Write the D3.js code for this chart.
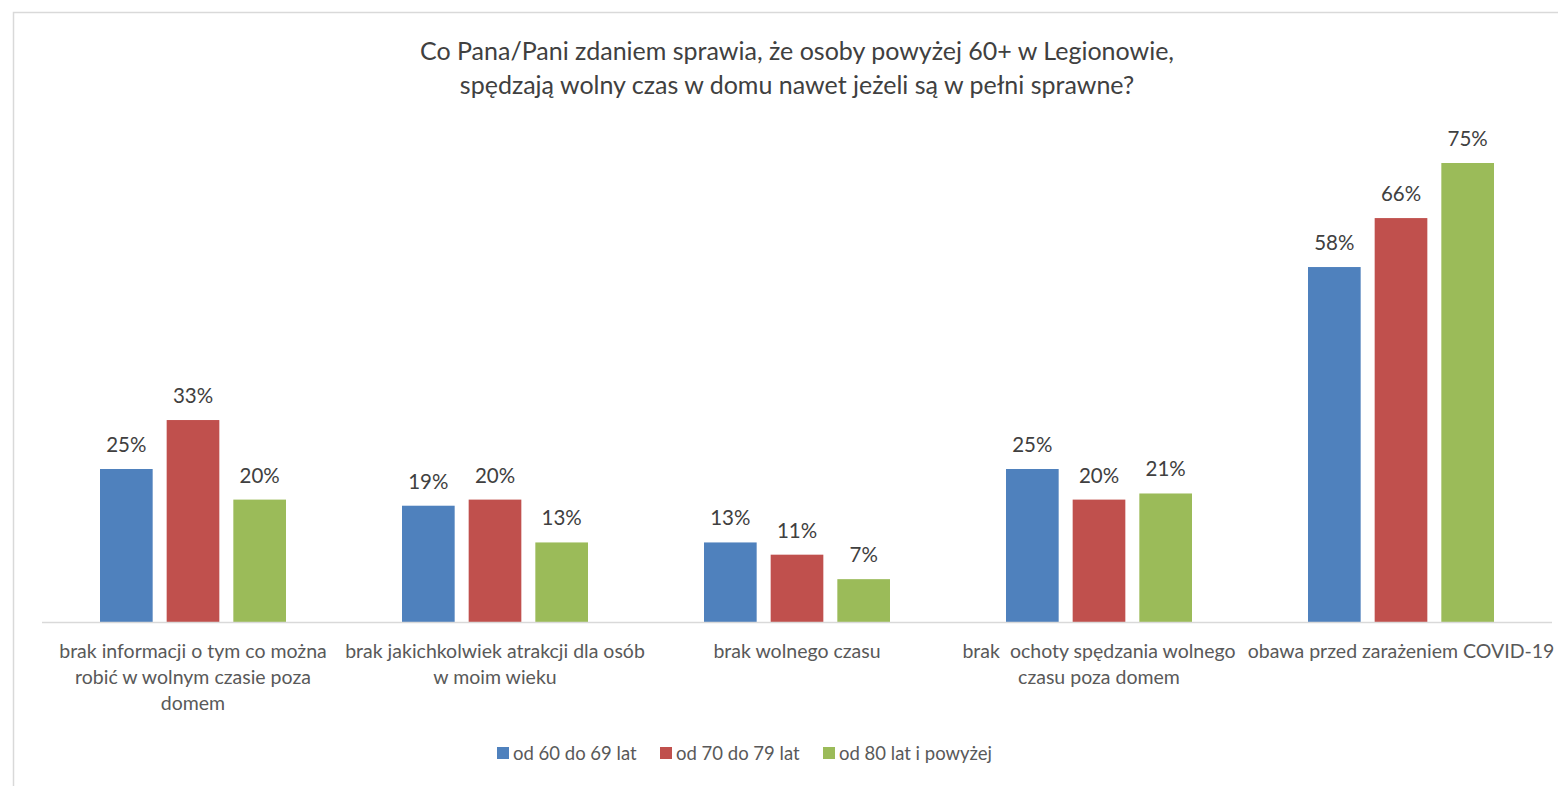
<!DOCTYPE html>
<html>
<head>
<meta charset="utf-8">
<script src="https://cdn.jsdelivr.net/npm/d3@7"></script>
<style>
  body { margin: 0; background: #fff; }
  svg { display: block; font-family: Lato, 'Open Sans', sans-serif; }
  text { white-space: pre; }
</style>
</head>
<body>
<svg id="chart" width="1558" height="786"></svg>
<script>
(function () {

  'use strict';

  // Data
  var categories = [
    ['brak informacji o tym co można', 'robić w wolnym czasie poza', 'domem'],
    ['brak jakichkolwiek atrakcji dla osób', 'w moim wieku'],
    ['brak wolnego czasu'],
    ['brak  ochoty spędzania wolnego', 'czasu poza domem'],
    ['obawa przed zarażeniem COVID-19']
  ];
  var seriesNames = ['od 60 do 69 lat', 'od 70 do 79 lat', 'od 80 lat i powyżej'];
  var age60 = [25, 19, 13, 25, 58];
  var age70 = [33, 20, 11, 20, 66];
  var age80 = [20, 13, 7, 21, 75];
  var colors = ['#4f81bd', '#c0504d', '#9bbb59'];
  var title = [
    'Co Pana/Pani zdaniem sprawia, że osoby powyżej 60+ w Legionowie,',
    'spędzają wolny czas w domu nawet jeżeli są w pełni sprawne?'
  ];

  var series = [age60, age70, age80];

  var svg = d3.select('#chart');

  // frame
  svg.append('path')
      .attr('d', 'M13.5,786 V12.5 H1558')
      .attr('fill', 'none')
      .attr('stroke', '#d9d9d9')
      .attr('stroke-width', 1.5);

  svg.append('g')
      .selectAll('text')
      .data(title)
      .enter()
    .append('text')
      .attr('x', 797)
      .attr('y', function (d, i) { return 60 + i * 34; })
      .attr('text-anchor', 'middle')
      .attr('font-size', 25)
      .attr('fill', '#404040')
      .text(function (d) { return d; });

  var x0 = d3.scaleBand()
      .domain(d3.range(categories.length))
      .range([42, 1552])
      .paddingInner(0)
      .paddingOuter(0);

  var x1 = d3.scaleBand()
      .domain(d3.range(series.length))
      .range([58, x0.bandwidth() - 58])
      .paddingInner(0.21);

  var y = d3.scaleLinear()
      .domain([0, 75])
      .range([622, 163]);

  var groups = svg.append('g')
    .selectAll('g')
      .data(categories)
      .enter()
    .append('g')
      .attr('transform', function (d, i) { return 'translate(' + x0(i) + ',0)'; });

  groups.each(function (c, ci) {

    var g = d3.select(this);

    series.forEach(function (s, si) {

      g.append('rect')
          .attr('x', x1(si))
          .attr('y', y(s[ci]))
          .attr('width', x1.bandwidth())
          .attr('height', y(0) - y(s[ci]))
          .attr('fill', colors[si]);

      g.append('text')
          .attr('x', x1(si) + x1.bandwidth() / 2)
          .attr('y', y(s[ci]) - 17)
          .attr('text-anchor', 'middle')
          .attr('font-size', 20.5)
          .attr('fill', '#404040')
          .text(s[ci] + '%');
    });

    g.selectAll('.lbl')
        .data(c)
        .enter()
      .append('text')
        .attr('class', 'lbl')
        .attr('x', x0.bandwidth() / 2)
        .attr('y', function (d, i) { return 658 + i * 26; })
        .attr('text-anchor', 'middle')
        .attr('font-size', 19.5)
        .attr('fill', '#595959')
        .text(function (d) { return d; });
  });

  // x axis line
  svg.append('line')
      .attr('x1', x0.range()[0])
      .attr('x2', x0.range()[1])
      .attr('y1', y(0) + 0.5)
      .attr('y2', y(0) + 0.5)
      .attr('stroke', '#d9d9d9')
      .attr('stroke-width', 1.5);

  // legend
  var legendX = [497, 660, 823];

  var legend = svg.append('g')
    .selectAll('g')
      .data(seriesNames)
      .enter()
    .append('g')
      .attr('transform', function (d, i) { return 'translate(' + legendX[i] + ',747)'; });

  legend.append('rect')
      .attr('width', 12)
      .attr('height', 12)
      .attr('fill', function (d, i) { return colors[i]; });

  legend.append('text')
      .attr('x', 16)
      .attr('y', 13)
      .attr('font-size', 18.5)
      .attr('fill', '#595959')
      .text(function (d) { return d; });
})();
</script>
</body>
</html>
